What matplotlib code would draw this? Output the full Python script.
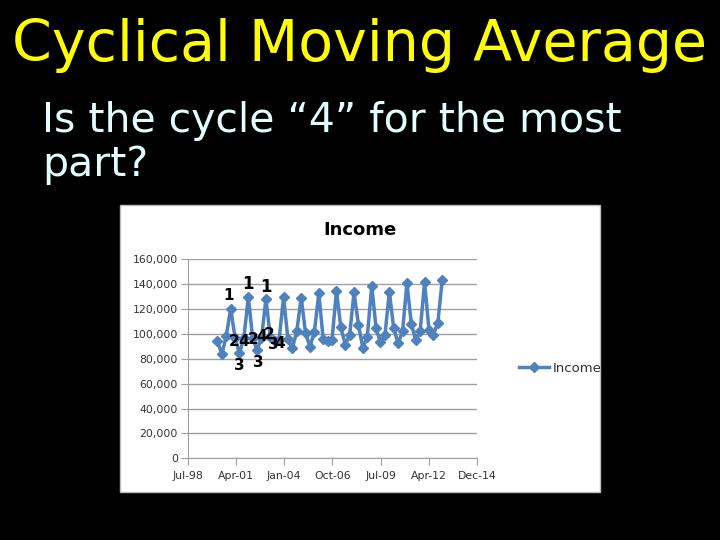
import matplotlib
matplotlib.use("Agg")
import matplotlib.pyplot as plt
import matplotlib.dates as mdates
from matplotlib.ticker import FuncFormatter, MultipleLocator
from matplotlib.patches import Rectangle
import pandas as pd

# quarterly income, Q1 2000 .. Q4 2012
quarters = pd.date_range('2000-03-31', periods=52, freq='QE')
income = [
    94500, 83500, 98500, 120300,
    97000, 84400, 96800, 129700,
    96500, 87200, 96500, 128300,
    97500, 94000, 95500, 129400,
    95700, 88400, 102200, 129200,
    100500, 89800, 101800, 132900,
    95700, 94600, 95100, 134600,
    105600, 91500, 99100, 133600,
    107200, 88800, 97800, 138700,
    104500, 93300, 98800, 133700,
    104500, 92500, 102100, 140900,
    107900, 95300, 102000, 141700,
    103200, 99500, 108700, 143400,
]

# the slide author's hand-placed cycle numbers (excel date serial, value)
marks = ['1', '1', '1', '2', '4', '2', '4', '2', '3', '4', '3', '3']
mark_x = [36855, 37243, 37616, 36965, 37152, 37347, 37533, 37690, 37773, 37912, 37069, 37463]
mark_y = [131000, 140300, 138000, 93800, 94300, 95900, 97800, 99700, 91100, 92500, 75000, 77200]
mark_size = [11, 12, 12, 11, 11, 11, 11, 11, 11, 11, 11, 11]

xticks_serial = [36000, 37000, 38000, 39000, 40000, 41000, 42000]


def excel_date(serial):
    return pd.Timestamp('1899-12-30') + pd.Timedelta(days=serial)


fig = plt.figure(figsize=(7.2, 5.4), dpi=100)
fig.patch.set_facecolor('black')

fig.text(0.5, 0.915, 'Cyclical Moving Average', color='#FFFF00', fontsize=41,
         ha='center', va='center', family='DejaVu Sans')
fig.text(0.058, 0.735, 'Is the cycle \u201c4\u201d for the most\npart?', color='#E0FFFF',
         fontsize=29.5, ha='left', va='center', linespacing=1.15, family='DejaVu Sans')

# white chart box
fig.patches.append(Rectangle((0.1667, 0.0889), 0.6667, 0.5315, transform=fig.transFigure,
                             facecolor='white', edgecolor='#BBBBBB', lw=1, zorder=-1))
fig.text(0.5, 0.574, 'Income', fontsize=13, fontweight='bold', ha='center', va='center',
         color='black')

ax = fig.add_axes([0.2607, 0.1513, 0.4022, 0.3685])
ax.set_facecolor('white')
ax.plot(quarters, income, color='#4F81BD', lw=2.5, marker='D', markersize=5, label='Income')

ax.set_ylim(0, 160000)
ax.yaxis.set_major_locator(MultipleLocator(20000))
ax.yaxis.set_major_formatter(FuncFormatter(lambda v, p: f'{int(v):,}'))
ax.set_xlim(excel_date(36000), excel_date(42000))
ax.set_xticks([excel_date(s) for s in xticks_serial])
ax.xaxis.set_major_formatter(mdates.DateFormatter('%b-%y'))
ax.grid(axis='y', color='#A0A0A0', lw=1)
ax.set_axisbelow(True)
for s in ['top', 'right']:
    ax.spines[s].set_visible(False)
ax.spines['left'].set_color('#A0A0A0')
ax.spines['bottom'].set_color('#A0A0A0')
ax.tick_params(axis='y', length=5, color='#A0A0A0', labelsize=7.8, labelcolor='#333333', pad=2)
ax.tick_params(axis='x', length=5, color='#A0A0A0', labelsize=7.8, labelcolor='#333333', pad=4)

for t, x, y, s in zip(marks, mark_x, mark_y, mark_size):
    ax.text(excel_date(x), y, t, fontsize=s, fontweight='bold', ha='center', va='center',
            color='black')

fig.legend(loc='center left', bbox_to_anchor=(0.705, 0.318), frameon=False, fontsize=9.5,
           handlelength=2.2, handletextpad=0.3, labelcolor='#333333')

fig.savefig('out.png', dpi=100, facecolor='black')
